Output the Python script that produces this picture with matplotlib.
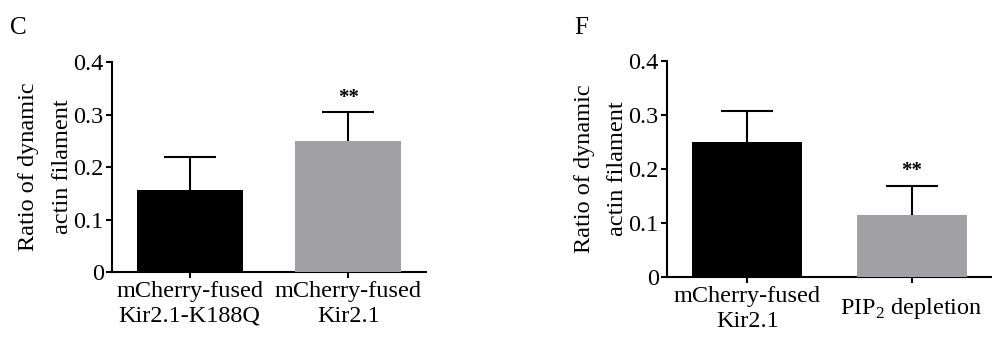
import matplotlib
matplotlib.use('Agg')
import matplotlib.pyplot as plt

plt.rcParams.update({
    'font.family': ['Liberation Serif', 'DejaVu Serif'],
    'font.size': 17.5,
    'axes.linewidth': 1.5,
    'mathtext.fontset': 'custom',
    'mathtext.rm': 'Liberation Serif',
})

# ── data ─────────────────────────────────────────────────────────────────────
labels_c = ['mCherry-fused\nKir2.1-K188Q', 'mCherry-fused\nKir2.1']
means_c  = [0.156, 0.250]
errs_c   = [0.063, 0.055]
sig_c    = ['', '**']

labels_f = ['mCherry-fused\nKir2.1', 'PIP$_2$ depletion']
means_f  = [0.250, 0.115]
errs_f   = [0.057, 0.054]
sig_f    = ['', '**']

yticks       = [0, 0.1, 0.2, 0.3, 0.4]
ytick_labels = ['0', '0.1', '0.2', '0.3', '0.4']
bar_colors   = ['#000000', '#a1a1a5']
ylabel       = 'Ratio of dynamic\nactin filament'

fig = plt.figure(figsize=(9.92, 3.41), dpi=100)
ax_c = fig.add_axes([0.1129, 0.2023, 0.3165, 0.6158])
ax_f = fig.add_axes([0.6724, 0.1877, 0.3276, 0.6334])


def draw_panel(ax, labels, means, errs, sig, label_x):
    x = list(range(len(means)))
    ax.bar(x, means, width=0.67, color=bar_colors, zorder=3)
    _, caps, _ = ax.errorbar(x, means, yerr=[[0] * len(errs), errs], fmt='none',
                             ecolor='black', elinewidth=1.5, capsize=19,
                             capthick=1.5, zorder=2)
    # keep only the upper caps
    for cap in caps:
        if list(cap.get_ydata()) == list(means):
            cap.set_visible(False)
    for xi, m, e, s in zip(x, means, errs, sig):
        if s:
            ax.text(xi, m + e + 0.008, s, ha='center', va='bottom', fontsize=15,
                    fontweight='bold')
    ax.set_xlim(-0.49, 1.49)
    ax.set_ylim(0, 0.4)
    ax.set_yticks(yticks)
    ax.set_yticklabels(ytick_labels)
    ax.set_xticks(x)
    ax.set_xticklabels(labels, linespacing=1.25)
    plt.setp(ax.get_xticklabels(), va='center')
    ax.tick_params(axis='x', length=4, width=1.5, pad=19)
    ax.tick_params(axis='y', length=4, width=1.5, pad=2)
    ax.spines['top'].set_visible(False)
    ax.spines['right'].set_visible(False)
    ax.set_ylabel(ylabel, linespacing=1.8, va='center')
    ax.yaxis.set_label_coords(label_x, 0.5)


draw_panel(ax_c, labels_c, means_c, errs_c, sig_c, -0.213)
draw_panel(ax_f, labels_f, means_f, errs_f, sig_f, -0.203)

fig.text(0.010, 0.90, 'C', fontsize=18)
fig.text(0.579, 0.90, 'F', fontsize=18)

fig.savefig('out.png', dpi=100)
